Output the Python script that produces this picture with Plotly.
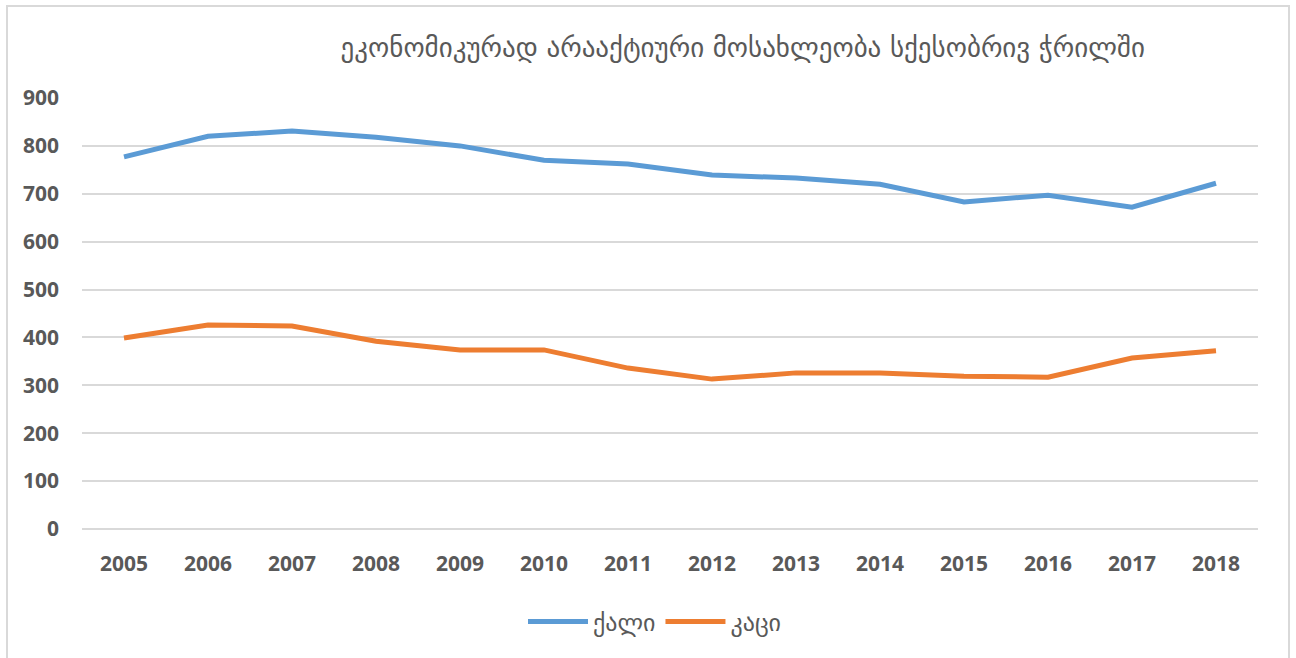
import plotly.graph_objects as go

years = ["2005", "2006", "2007", "2008", "2009", "2010", "2011", "2012", "2013", "2014", "2015", "2016", "2017", "2018"]
women = [777, 820, 831, 818, 800, 770, 762, 739, 733, 720, 683, 697, 672, 722]
men = [399, 426, 424, 392, 374, 374, 336, 313, 326, 326, 319, 317, 357, 372]
series_names = ["ქალი", "კაცი"]
title_text = "ეკონომიკურად არააქტიური მოსახლეობა სქესობრივ ჭრილში"

fig = go.Figure()
fig.add_trace(go.Scatter(x=years, y=women, name=series_names[0], mode="lines",
                         line=dict(color="#5B9BD5", width=5)))
fig.add_trace(go.Scatter(x=years, y=men, name=series_names[1], mode="lines",
                         line=dict(color="#ED7D31", width=5)))

L, R, T, B = 82, 38, 98, 129
W, H = 1296, 658
pw, ph = W - L - R, H - T - B

def px_x(x):
    return (x - L) / pw

def px_y(y):
    return (H - B - y) / ph

fig.add_shape(type="rect", xref="paper", yref="paper",
              x0=px_x(7), x1=px_x(1289), y0=px_y(700), y1=px_y(6),
              line=dict(color="#d9d9d9", width=2), fillcolor="rgba(0,0,0,0)", layer="below")

fig.update_layout(
    width=W, height=H,
    margin=dict(l=L, r=R, t=T, b=B),
    paper_bgcolor="white", plot_bgcolor="white",
    title=dict(text=title_text, x=px_x(756), xanchor="center", y=1 - 48 / H, yanchor="middle",
               font=dict(family="DejaVu Sans", size=27, color="#595959")),
    xaxis=dict(type="category", range=[-0.5, len(years) - 0.5], showgrid=False, zeroline=False,
               showline=False, ticks="",
               tickfont=dict(family="Open Sans", size=21, color="#595959", weight="bold"),
               ticklabelstandoff=20),
    yaxis=dict(range=[0, 900], dtick=100, showgrid=True, gridcolor="#d9d9d9", gridwidth=1.5,
               zeroline=True, zerolinecolor="#d9d9d9", zerolinewidth=1.5,
               showline=False, ticks="",
               tickfont=dict(family="Open Sans", size=21, color="#595959", weight="bold"),
               ticklabelstandoff=22),
    legend=dict(orientation="h", x=px_x(655), xanchor="center", y=px_y(622), yanchor="middle",
                font=dict(family="DejaVu Sans", size=24, color="#595959"),
                itemwidth=60, bgcolor="rgba(0,0,0,0)"),
    showlegend=True,
)

fig.write_html("out.html")
